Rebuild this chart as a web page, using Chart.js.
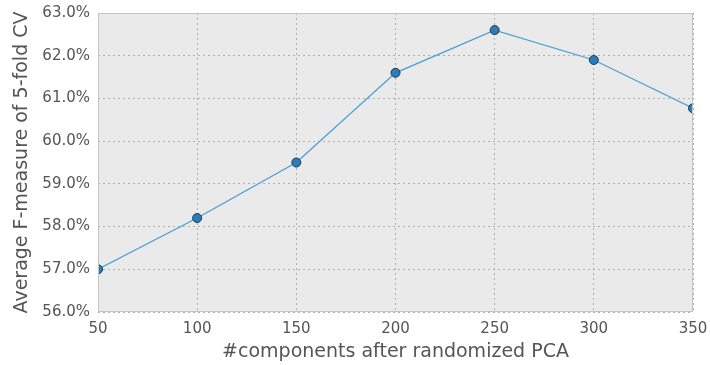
<!DOCTYPE html>
<html><head><meta charset="utf-8">
<script src="https://cdn.jsdelivr.net/npm/chart.js@4/dist/chart.umd.min.js"></script>
<style>html,body{margin:0;padding:0;background:#fff}#w{width:710px;height:365px}</style>
</head><body><div id="w"><canvas id="c" width="710" height="365"></canvas></div>
<script>
const components = [50, 100, 150, 200, 250, 300, 350];
const fmeasure = [57.0, 58.2, 59.5, 61.6, 62.6, 61.9, 60.77];
const yTicks = [56, 57, 58, 59, 60, 61, 62, 63];
const xTicks = [50, 100, 150, 200, 250, 300, 350];

const bgPlugin = {
  id: 'bg',
  beforeDraw(chart) {
    const {ctx, chartArea: a} = chart;
    ctx.save();
    ctx.fillStyle = '#eaeaea';
    ctx.fillRect(a.left, a.top, a.right - a.left, a.bottom - a.top);
    ctx.restore();
  },
  afterDatasetsDraw(chart) {
    const {ctx, chartArea: a} = chart;
    ctx.save();
    ctx.strokeStyle = '#c4c4c4';
    ctx.lineWidth = 1;
    ctx.strokeRect(a.left + 0.5, a.top + 0.5, a.right - a.left - 1, a.bottom - a.top - 1);
    ctx.restore();
  }
};

Chart.defaults.font.family = 'DejaVu Sans';
new Chart(document.getElementById('c'), {
  type: 'scatter',
  data: {
    datasets: [{
      data: components.map((x, i) => ({x, y: fmeasure[i]})),
      showLine: true,
      borderColor: '#4b9fd2',
      borderWidth: 1.3,
      pointRadius: 4.5,
      pointBackgroundColor: '#2a7db6',
      pointBorderColor: '#1f3b52',
      pointBorderWidth: 1,
      clip: {left: 0, right: 0, top: 10, bottom: 10}
    }]
  },
  options: {
    responsive: false,
    animation: false,
    layout: {padding: {left: 0, right: 17, top: 13, bottom: 0}},
    plugins: {legend: {display: false}, tooltip: {enabled: false}},
    scales: {
      x: {
        type: 'linear', min: 50, max: 350,
        afterBuildTicks: s => { s.ticks = xTicks.map(v => ({value: v})); },
        afterFit: s => { s.height = 53; s.paddingLeft = 0; s.paddingRight = 0; },
        ticks: {color: '#555', font: {size: 15}, padding: 8, maxRotation: 0},
        grid: {color: '#b0b0b0', drawTicks: false, lineWidth: 1},
        border: {display: false, dash: [2, 3]},
        title: {display: true, text: '#components after randomized PCA', color: '#555', font: {size: 19}, padding: {top: 0, bottom: 1.5}}
      },
      y: {
        min: 56, max: 63,
        afterBuildTicks: s => { s.ticks = yTicks.map(v => ({value: v})); },
        afterFit: s => { s.width = 98; s.paddingTop = 0; s.paddingBottom = 0; },
        ticks: {color: '#555', font: {size: 15}, padding: 8, callback: v => v.toFixed(1) + '%'},
        grid: {color: '#b0b0b0', drawTicks: false, lineWidth: 1},
        border: {display: false, dash: [2, 3]},
        title: {display: true, text: 'Average F-measure of 5-fold CV', color: '#555', font: {size: 19}, padding: {top: 11, bottom: 0}}
      }
    }
  },
  plugins: [bgPlugin]
});
</script>
</body></html>
